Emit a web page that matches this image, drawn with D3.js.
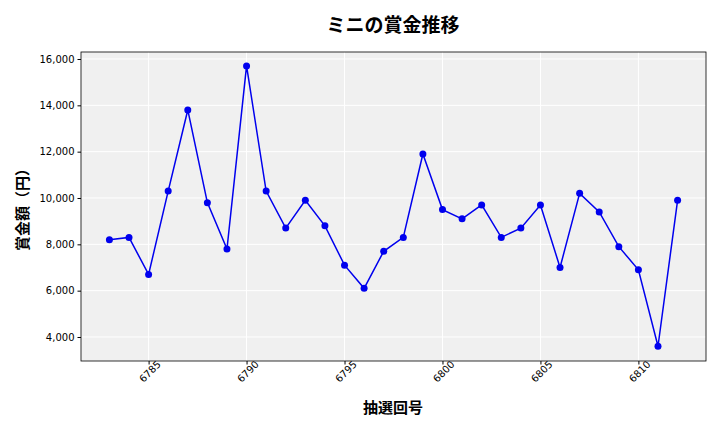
<!DOCTYPE html>
<html><head><meta charset="utf-8">
<script src="https://cdn.jsdelivr.net/npm/d3@7"></script>
<style>body{margin:0;background:#fff;font-family:"Noto Sans CJK JP","DejaVu Sans",sans-serif}</style>
</head><body><svg id="c" width="720" height="432"></svg>
<script>
const draws=[6783,6784,6785,6786,6787,6788,6789,6790,6791,6792,6793,6794,6795,6796,6797,6798,6799,6800,6801,6802,6803,6804,6805,6806,6807,6808,6809,6810,6811,6812];
const prizes=[8200,8300,6700,10300,13800,9800,7800,15700,10300,8700,9900,8800,7100,6100,7700,8300,11900,9500,9100,9700,8300,8700,9700,7000,10200,9400,7900,6900,3600,9900];
const xTicks=[6785,6790,6795,6800,6805,6810];
const yTicks=[4000,6000,8000,10000,12000,14000,16000];
const svg=d3.select("#c");
const L=81,R=706,T=52,B=361;
const x=d3.scaleLinear().domain([6781.55,6813.45]).range([L,R]);
const y=d3.scaleLinear().domain([2964,16302]).range([B,T]);
svg.append("rect").attr("x",L).attr("y",T).attr("width",R-L).attr("height",B-T).attr("fill","#f0f0f0");
const g=svg.append("g");
xTicks.forEach(t=>g.append("line").attr("x1",x(t)).attr("x2",x(t)).attr("y1",T).attr("y2",B).attr("stroke","#fff").attr("stroke-width",1));
yTicks.forEach(t=>g.append("line").attr("x1",L).attr("x2",R).attr("y1",y(t)).attr("y2",y(t)).attr("stroke","#fff").attr("stroke-width",1));
svg.append("rect").attr("x",L).attr("y",T).attr("width",R-L).attr("height",B-T).attr("fill","none").attr("stroke","#000").attr("stroke-width",0.8);
const xa=svg.append("g").attr("transform",`translate(0,${B})`).call(d3.axisBottom(x).tickValues(xTicks).tickFormat(d3.format("d")).tickSize(3.5));
xa.select(".domain").remove();
xa.selectAll("text").attr("font-size",10).attr("text-anchor","end").attr("dx","0.6em").attr("dy","0.5em").attr("transform","rotate(-45)").attr("font-family","DejaVu Sans");
const ya=svg.append("g").attr("transform",`translate(${L},0)`).call(d3.axisLeft(y).tickValues(yTicks).tickFormat(d3.format(",")).tickSize(3.5));
ya.select(".domain").remove();
ya.selectAll("text").attr("font-size",10).attr("font-family","DejaVu Sans");
const line=d3.line().x((d,i)=>x(draws[i])).y(d=>y(d));
svg.append("path").datum(prizes).attr("d",line).attr("fill","none").attr("stroke","#0000ee").attr("stroke-width",1.5);
svg.selectAll("circle.p").data(prizes).enter().append("circle").attr("cx",(d,i)=>x(draws[i])).attr("cy",d=>y(d)).attr("r",3.5).attr("fill","#0000ee");
svg.append("text").attr("x",393).attr("y",32).attr("text-anchor","middle").attr("font-size",19).attr("font-weight","bold").text("ミニの賞金推移");
svg.append("text").attr("x",393).attr("y",413).attr("text-anchor","middle").attr("font-size",15).attr("font-weight","bold").text("抽選回号");
svg.append("text").attr("transform","translate(28,206) rotate(-90)").attr("text-anchor","middle").attr("font-size",15).attr("font-weight","bold").text("賞金額（円）");
</script></body></html>
